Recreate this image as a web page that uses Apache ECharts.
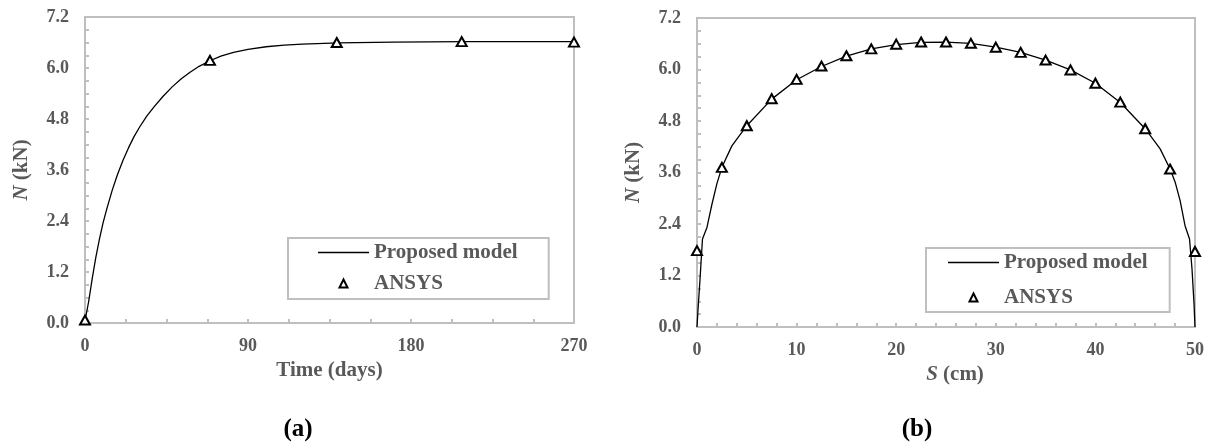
<!DOCTYPE html>
<html>
<head>
<meta charset="utf-8">
<script src="https://cdn.jsdelivr.net/npm/echarts@6/dist/echarts.min.js"></script>
<style>
  html, body { margin: 0; padding: 0; background: #fff; }
  #chart { width: 1210px; height: 446px; }
</style>
</head>
<body>
<div id="chart"></div>
<script>
// (a) N vs time
var daysA = [0, 2, 4, 6, 8, 10, 12, 15, 18, 21, 24, 27, 30, 34, 38, 43, 48, 53, 58, 63, 69, 75, 82, 90, 100, 110, 120, 140, 170, 210, 270];
var modelA = [0.05, 0.5, 1.05, 1.55, 1.98, 2.36, 2.68, 3.12, 3.5, 3.83, 4.12, 4.38, 4.6, 4.86, 5.08, 5.33, 5.55, 5.74, 5.9, 6.04, 6.17, 6.28, 6.37, 6.44, 6.5, 6.54, 6.56, 6.59, 6.61, 6.62, 6.62];
var ansysDays = [0, 69, 139, 208, 270];
var ansysA = [0.07, 6.18, 6.6, 6.62, 6.61];

// (b) N vs S
var sB = [0, 0.1, 0.3, 0.55, 1, 1.5, 2, 2.5, 3.5, 5, 7.5, 10, 12.5, 15, 17.5, 20, 22.5, 25, 27.5, 30, 32.5, 35, 37.5, 40, 42.5, 45, 46.5, 47.5, 48, 48.5, 49, 49.45, 49.7, 49.9, 50];
var modelB = [0, 0.4, 1.1, 2.05, 2.32, 2.86, 3.34, 3.72, 4.22, 4.69, 5.31, 5.76, 6.07, 6.31, 6.48, 6.58, 6.63, 6.64, 6.61, 6.52, 6.4, 6.22, 5.99, 5.68, 5.23, 4.62, 4.15, 3.68, 3.38, 2.95, 2.36, 2.05, 1.35, 0.55, 0];
var ansysS = [0, 2.5, 5, 7.5, 10, 12.5, 15, 17.5, 20, 22.5, 25, 27.5, 30, 32.5, 35, 37.5, 40, 42.5, 45, 47.5, 50];
var ansysB = [1.78, 3.72, 4.69, 5.32, 5.77, 6.08, 6.32, 6.48, 6.59, 6.64, 6.64, 6.61, 6.52, 6.4, 6.22, 5.99, 5.68, 5.24, 4.62, 3.68, 1.76];

var xTicksA = [0, 90, 180, 270];
var xTicksB = [0, 10, 20, 30, 40, 50];
var yTicks = [0, 1.2, 2.4, 3.6, 4.8, 6.0, 7.2];

var txtGray = '#595959';
var lineGray = '#bfbfbf';
var serif = '"Liberation Serif", "Times New Roman", serif';

function pairs(xs, ys) {
  return xs.map(function (x, i) { return [x, ys[i]]; });
}

function isTick(v, list) {
  return list.some(function (t) { return Math.abs(t - v) < 1e-6; });
}

var labelStyle = { fontFamily: serif, fontWeight: 'bold', fontSize: 18, color: txtGray };
var nameStyle = {
  fontFamily: serif, fontWeight: 'bold', fontSize: 21, color: txtGray,
  rich: {
    i: { fontFamily: serif, fontWeight: 'bold', fontStyle: 'italic', fontSize: 21, color: txtGray },
    n: { fontFamily: serif, fontWeight: 'bold', fontSize: 21, color: txtGray }
  }
};

function xAxisOf(grid, max, step, ticks, name, gap, pad) {
  return {
    type: 'value', gridIndex: grid, min: 0, max: max, interval: step,
    axisLine: { show: true, onZero: false, lineStyle: { color: lineGray, width: 2 } },
    axisTick: { show: true, inside: true, length: 4, lineStyle: { color: lineGray, width: 2 } },
    splitLine: { show: false },
    axisLabel: Object.assign({ margin: 14, formatter: function (v) { return isTick(v, ticks) ? String(v) : ''; } }, labelStyle),
    name: name, nameLocation: 'middle', nameGap: gap,
    nameTextStyle: Object.assign({ padding: pad }, nameStyle)
  };
}

function yAxisOf(grid) {
  return {
    type: 'value', gridIndex: grid, min: 0, max: 7.2, interval: 0.3,
    axisLine: { show: true, onZero: false, lineStyle: { color: lineGray, width: 2 } },
    axisTick: { show: true, inside: true, length: 4, lineStyle: { color: lineGray, width: 2 } },
    splitLine: { show: false },
    axisLabel: Object.assign({ margin: 16, formatter: function (v) { return isTick(v, yTicks) ? v.toFixed(1) : ''; } }, labelStyle),
    name: '{i|N}{n| (kN)}', nameLocation: 'middle', nameGap: 53,
    nameTextStyle: nameStyle
  };
}

function legendOf(left, top, gap, pad) {
  return {
    orient: 'vertical', align: 'left', left: left, top: top,
    itemWidth: 51, itemHeight: 10, itemGap: gap, padding: pad,
    borderColor: lineGray, borderWidth: 2, selectedMode: false,
    data: [
      { name: 'Proposed model', icon: 'path://M0,0 L51,0 L51,1.3 L0,1.3 Z' },
      { name: 'ANSYS' }
    ],
    textStyle: { fontFamily: serif, fontWeight: 'bold', fontSize: 21, color: txtGray }
  };
}

var modelStyle = { color: '#000', width: 1.3 };
var triStyle = { color: '#fff', borderColor: '#000', borderWidth: 2 };

function modelSeries(ax, data) {
  return {
    name: 'Proposed model', type: 'line', xAxisIndex: ax, yAxisIndex: ax, data: data,
    symbol: 'none', smooth: false, lineStyle: modelStyle, itemStyle: { color: '#000' }, z: 2
  };
}

function ansysSeries(ax, data) {
  return {
    name: 'ANSYS', type: 'line', xAxisIndex: ax, yAxisIndex: ax, data: data,
    symbol: 'triangle', symbolSize: [10, 9], showSymbol: true, showAllSymbol: true,
    lineStyle: { width: 0, opacity: 0 }, itemStyle: triStyle, clip: false, z: 3
  };
}

var chart = echarts.init(document.getElementById('chart'));
chart.setOption({
  backgroundColor: '#fff',
  animation: false,
  grid: [
    { left: 85, top: 17, width: 489, height: 306, show: true, borderColor: lineGray, borderWidth: 2, containLabel: false, outerBoundsMode: 'none' },
    { left: 697, top: 18, width: 498, height: 309, show: true, borderColor: lineGray, borderWidth: 2, containLabel: false, outerBoundsMode: 'none' }
  ],
  xAxis: [
    xAxisOf(0, 270, 22.5, xTicksA, 'Time (days)', 36, [0, 0, 0, 0]),
    xAxisOf(1, 50, 2, xTicksB, '{i|S}{n| (cm)}', 33, [0, 0, 0, 18])
  ],
  yAxis: [yAxisOf(0), yAxisOf(1)],
  legend: [
    legendOf(288, 238, 10, [4, 31, 5, 30]),
    legendOf(926, 248, 14, [4, 22, 4, 22])
  ],
  graphic: [
    { type: 'text', x: 298, y: 430, style: { text: '(a)', font: 'bold 25px "Liberation Serif", serif', fill: '#000', align: 'center', verticalAlign: 'middle' } },
    { type: 'text', x: 917, y: 430, style: { text: '(b)', font: 'bold 25px "Liberation Serif", serif', fill: '#000', align: 'center', verticalAlign: 'middle' } }
  ],
  series: [
    modelSeries(0, pairs(daysA, modelA)),
    ansysSeries(0, pairs(ansysDays, ansysA)),
    modelSeries(1, pairs(sB, modelB)),
    ansysSeries(1, pairs(ansysS, ansysB))
  ]
});
</script>
</body>
</html>
